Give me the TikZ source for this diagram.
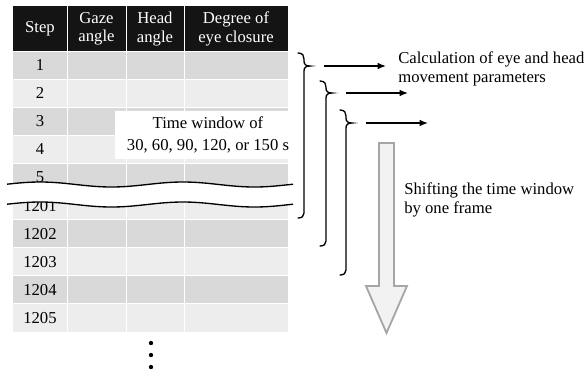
\documentclass[tikz,border=0pt]{standalone}
\usepackage{fontspec}
\setmainfont{Liberation Serif}
\usetikzlibrary{arrows.meta}
\definecolor{headfill}{HTML}{141414}
\definecolor{rowdark}{HTML}{D9D9D9}
\definecolor{rowlight}{HTML}{EDEDED}
\definecolor{arrowfill}{HTML}{F2F2F2}
\definecolor{arrowline}{HTML}{A6A6A6}
\tikzset{
  cell/.style={draw=white, line width=0.6pt},
  brace/.style={line width=0.8pt, line cap=round},
  flow/.style={-{Latex[length=5pt,width=4pt]}, line width=0.8pt},
  wave/.style={line width=0.8pt},
  bigarrow/.style={fill=arrowfill, draw=arrowline, line width=1.1pt, line join=miter},
  dot/.style={circle, fill=black, inner sep=0pt, minimum size=2.6pt}
}
\begin{document}
\begin{tikzpicture}[x=0.6pt, y=-0.6pt, every node/.style={font=\fontsize{10}{11}\selectfont}]
    \useasboundingbox (0,0) rectangle (588,373);
    % header
    \foreach \xa/\xb in {13/67,67/126,126/184,184/288}
        \filldraw [cell, fill=headfill] (\xa,5) rectangle (\xb,51);
    \node [text=white] (head1) at (40,29) {Step};
    \node [text=white, align=center] (head2) at (96.5,29) {Gaze\\angle};
    \node [text=white, align=center] (head3) at (155,29) {Head\\angle};
    \node [text=white, align=center] (head4) at (236,29) {Degree of\\eye closure};
    % rows
    \foreach \lbl [count=\r from 0] in {1,2,3,4,5,1201,1202,1203,1204,1205} {
        \pgfmathsetmacro{\ytop}{51+28.1*\r}
        \ifodd\r \def\rowfill{rowlight}\else\def\rowfill{rowdark}\fi
        \foreach \xa/\xb in {13/67,67/126,126/184,184/288}
            \filldraw [cell, fill=\rowfill] (\xa,\ytop) rectangle (\xb,\ytop+28.1);
        \node (row\r) at (40,\ytop+14.05) {\lbl};
    }
    % time window label
    \node [fill=white, align=center, inner sep=0pt, minimum width=111.6pt, minimum height=29pt,
           font=\fontsize{10}{13}\selectfont] (window) at (208,135) {Time window of\\30, 60, 90, 120, or 150 s};
    % break in the table
    \fill [white] plot [domain=7:293, samples=60] (\x, {184.5-2.5*cos((\x-40)*2.5175)})
        -- plot [domain=293:7, samples=60] (\x, {204.5-2.5*cos((\x-40)*2.5175)}) -- cycle;
    \draw [wave] plot [domain=7:293, samples=60] (\x, {184.5-2.5*cos((\x-40)*2.5175)});
    \draw [wave] plot [domain=7:293, samples=60] (\x, {204.5-2.5*cos((\x-40)*2.5175)});
    % braces and arrows
    \foreach \bx/\btop/\btip/\bbot [count=\i] in {304/53/66/218, 326/81/93/246, 346/110/123/275} {
        \coordinate (tip\i) at (\bx+6,\btip);
        \coordinate (from\i) at (\bx+20,\btip);
        \coordinate (to\i) at (\bx+82,\btip);
        \draw [brace] (\bx-6,\btop) .. controls (\bx-1,\btop) and (\bx,\btop+3) .. (\bx,\btop+6)
            -- (\bx,\btip-5) .. controls (\bx,\btip-1.5) and (\bx+2,\btip) .. (tip\i)
            .. controls (\bx+2,\btip) and (\bx,\btip+1.5) .. (\bx,\btip+5)
            -- (\bx,\bbot-5) .. controls (\bx,\bbot-2) and (\bx-2,\bbot) .. (\bx-6,\bbot);
        \draw [flow] (from\i) -- (to\i);
    }
    \node [anchor=west, align=left, inner sep=0pt, font=\fontsize{10}{11.4}\selectfont] (calc) at (398,68.5)
        {Calculation of eye and head\\movement parameters};
    % shifting arrow
    \draw [bigarrow] (379,143) -- (394,143) -- (394,286) -- (407,286) -- (386.5,333)
        -- (366,286) -- (379,286) -- cycle;
    \node [anchor=west, align=left, inner sep=0pt, font=\fontsize{10}{11}\selectfont] (shift) at (404,200)
        {Shifting the time window\\by one frame};
    % more steps
    \node [dot] (dot1) at (151,343) {};
    \node [dot] (dot2) at (151,355) {};
    \node [dot] (dot3) at (151,367) {};
\end{tikzpicture}
\end{document}
